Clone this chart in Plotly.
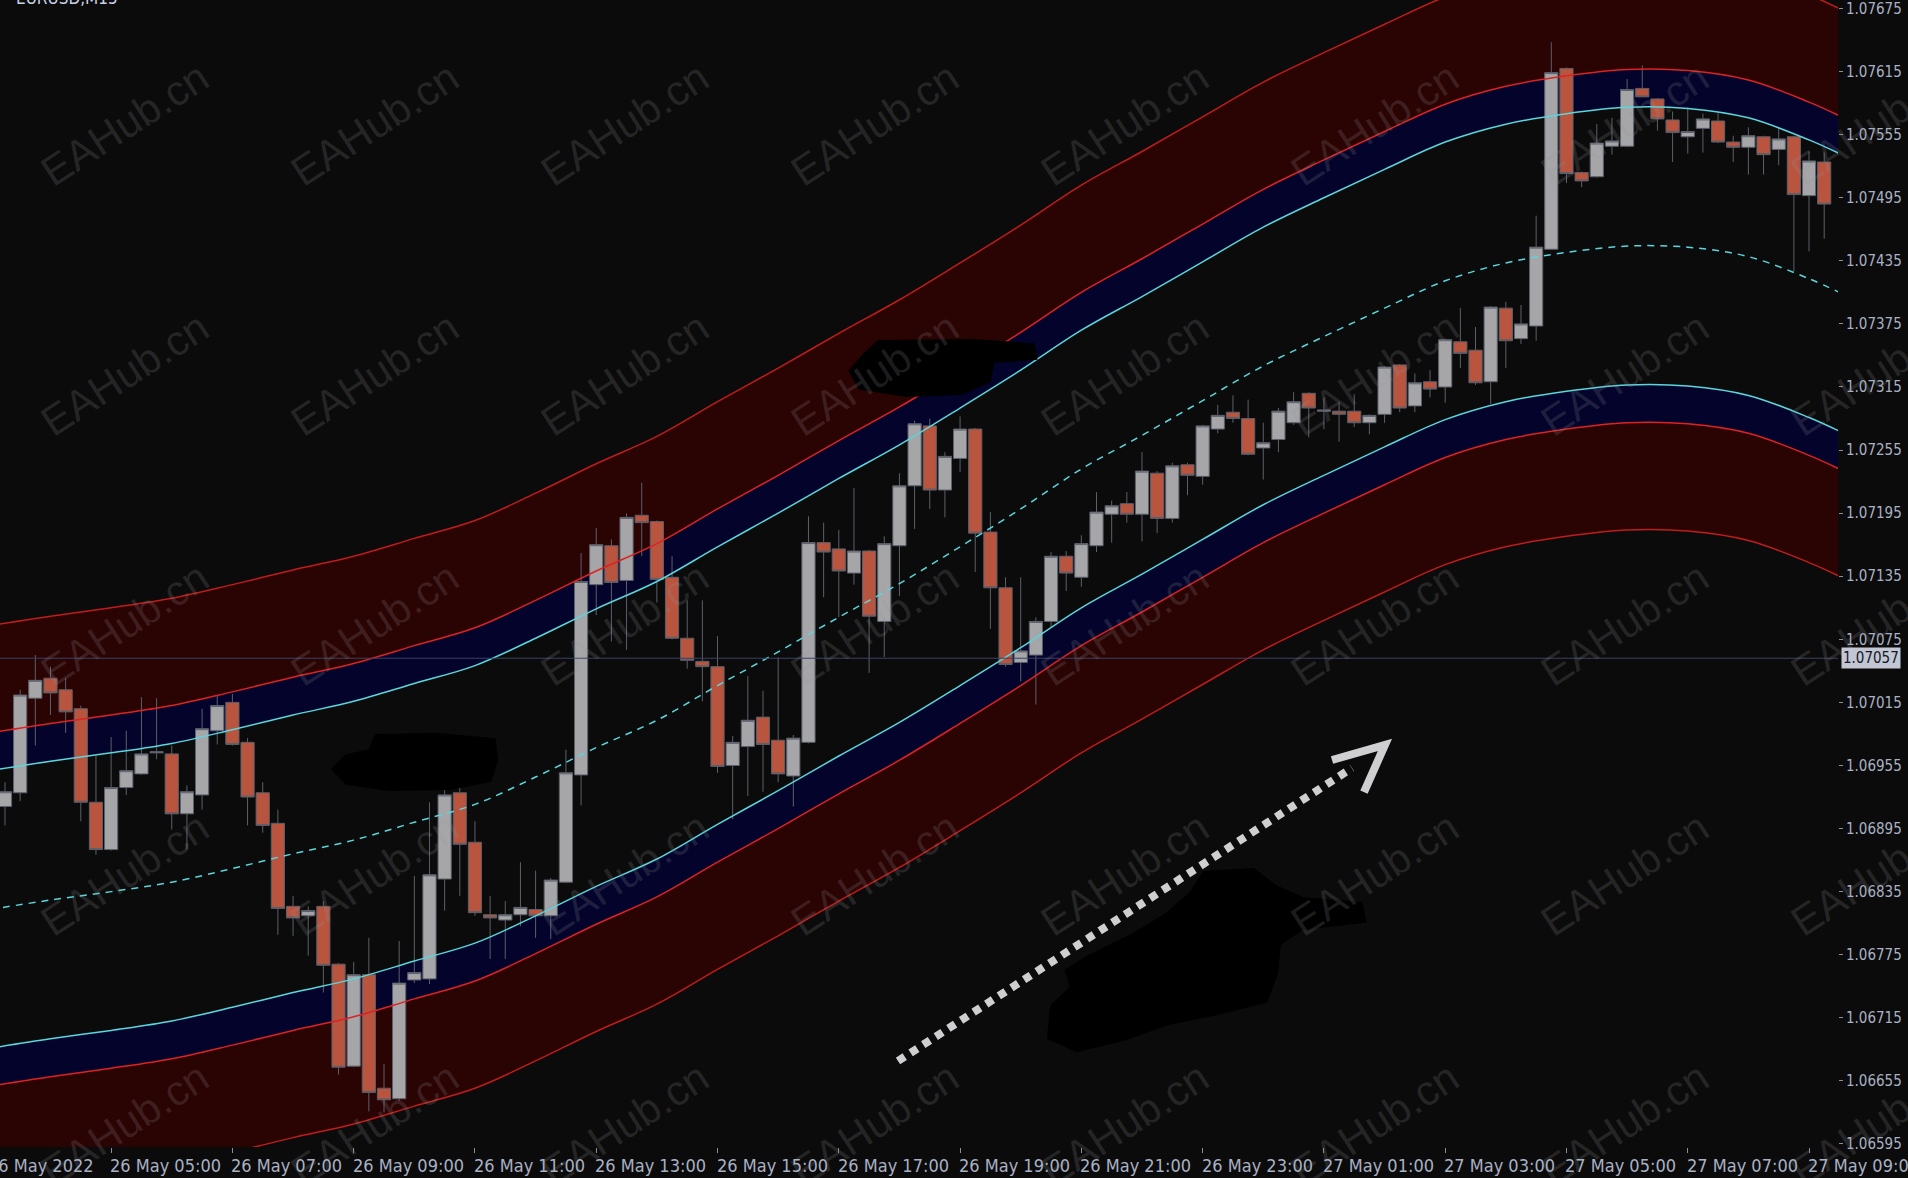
import pandas as pd
import plotly.graph_objects as go

# EURUSD M15 candles, 26 May 03:15 -> 27 May 09:15
opens = [1.06916, 1.06929, 1.07019, 1.07038, 1.07027, 1.07009, 1.06920, 1.06875, 1.06934, 1.06947,
         1.06967, 1.06966, 1.06909, 1.06927, 1.06988, 1.07015, 1.06977, 1.06929, 1.06900, 1.06821,
         1.06812, 1.06821, 1.06766, 1.06669, 1.06756, 1.06648, 1.06638, 1.06751, 1.06752, 1.06847,
         1.06929, 1.06882, 1.06813, 1.06808, 1.06813, 1.06818, 1.06812, 1.06844, 1.06946, 1.07127,
         1.07164, 1.07131, 1.07193, 1.07187, 1.07134, 1.07076, 1.07054, 1.07049, 1.06955, 1.06973,
         1.07001, 1.06979, 1.06945, 1.06977, 1.07167, 1.07161, 1.07138, 1.07159, 1.07092, 1.07164,
         1.07221, 1.07278, 1.07217, 1.07247, 1.07275, 1.07177, 1.07124, 1.07053, 1.07060, 1.07092,
         1.07154, 1.07134, 1.07164, 1.07194, 1.07204, 1.07194, 1.07233, 1.07190, 1.07241, 1.07230,
         1.07275, 1.07291, 1.07285, 1.07257, 1.07265, 1.07281, 1.07309, 1.07292, 1.07292, 1.07292,
         1.07281, 1.07289, 1.07336, 1.07297, 1.07320, 1.07315, 1.07358, 1.07350, 1.07320, 1.07390,
         1.07361, 1.07373, 1.07446, 1.07618, 1.07519, 1.07515, 1.07544, 1.07544, 1.07599, 1.07589,
         1.07569, 1.07553, 1.07561, 1.07568, 1.07548, 1.07543, 1.07553, 1.07541, 1.07553, 1.07497,
         1.07529]
highs = [1.06939, 1.07027, 1.07060, 1.07049, 1.07038, 1.07012, 1.06964, 1.06982, 1.06988, 1.07020,
         1.07019, 1.06974, 1.06936, 1.07009, 1.07021, 1.07023, 1.06981, 1.06939, 1.06913, 1.06831,
         1.06821, 1.06826, 1.06767, 1.06768, 1.06791, 1.06671, 1.06788, 1.06850, 1.06920, 1.06937,
         1.06942, 1.06902, 1.06831, 1.06826, 1.06863, 1.06855, 1.06848, 1.06970, 1.07157, 1.07181,
         1.07170, 1.07195, 1.07224, 1.07188, 1.07154, 1.07112, 1.07112, 1.07078, 1.06983, 1.07040,
         1.07026, 1.07058, 1.06984, 1.07192, 1.07186, 1.07179, 1.07219, 1.07160, 1.07173, 1.07233,
         1.07283, 1.07285, 1.07253, 1.07287, 1.07276, 1.07196, 1.07134, 1.07134, 1.07096, 1.07158,
         1.07159, 1.07174, 1.07215, 1.07207, 1.07215, 1.07253, 1.07235, 1.07243, 1.07243, 1.07279,
         1.07298, 1.07307, 1.07303, 1.07281, 1.07295, 1.07310, 1.07310, 1.07305, 1.07301, 1.07308,
         1.07289, 1.07335, 1.07337, 1.07328, 1.07331, 1.07361, 1.07390, 1.07372, 1.07392, 1.07396,
         1.07393, 1.07478, 1.07643, 1.07619, 1.07520, 1.07565, 1.07571, 1.07608, 1.07621, 1.07590,
         1.07577, 1.07581, 1.07575, 1.07576, 1.07554, 1.07562, 1.07554, 1.07562, 1.07554, 1.07539,
         1.07538]
lows = [1.06898, 1.06921, 1.06974, 1.07003, 1.06986, 1.06902, 1.06870, 1.06874, 1.06927, 1.06946,
        1.06961, 1.06894, 1.06875, 1.06913, 1.06975, 1.06974, 1.06898, 1.06891, 1.06794, 1.06793,
        1.06774, 1.06739, 1.06661, 1.06668, 1.06626, 1.06625, 1.06636, 1.06748, 1.06747, 1.06817,
        1.06831, 1.06812, 1.06771, 1.06771, 1.06802, 1.06791, 1.06790, 1.06843, 1.06917, 1.07098,
        1.07073, 1.07065, 1.07154, 1.07110, 1.07075, 1.07047, 1.07016, 1.06948, 1.06904, 1.06926,
        1.06930, 1.06939, 1.06916, 1.06976, 1.07115, 1.07096, 1.07127, 1.07043, 1.07058, 1.07116,
        1.07180, 1.07199, 1.07191, 1.07234, 1.07139, 1.07085, 1.07049, 1.07035, 1.07013, 1.07086,
        1.07121, 1.07125, 1.07158, 1.07167, 1.07186, 1.07168, 1.07176, 1.07186, 1.07212, 1.07222,
        1.07271, 1.07281, 1.07250, 1.07227, 1.07253, 1.07279, 1.07267, 1.07275, 1.07263, 1.07277,
        1.07270, 1.07281, 1.07291, 1.07291, 1.07305, 1.07300, 1.07333, 1.07317, 1.07299, 1.07333,
        1.07356, 1.07359, 1.07446, 1.07509, 1.07505, 1.07514, 1.07536, 1.07543, 1.07591, 1.07559,
        1.07529, 1.07537, 1.07538, 1.07547, 1.07529, 1.07517, 1.07517, 1.07526, 1.07425, 1.07444,
        1.07456]
closes = [1.06930, 1.07022, 1.07036, 1.07024, 1.07006, 1.06920, 1.06875, 1.06934, 1.06950, 1.06966,
          1.06968, 1.06909, 1.06930, 1.06990, 1.07012, 1.06975, 1.06925, 1.06898, 1.06819, 1.06810,
          1.06817, 1.06765, 1.06668, 1.06756, 1.06644, 1.06637, 1.06748, 1.06758, 1.06851, 1.06927,
          1.06880, 1.06815, 1.06810, 1.06813, 1.06820, 1.06812, 1.06846, 1.06948, 1.07130, 1.07165,
          1.07129, 1.07191, 1.07186, 1.07132, 1.07076, 1.07055, 1.07049, 1.06954, 1.06977, 1.06998,
          1.06975, 1.06947, 1.06981, 1.07167, 1.07158, 1.07140, 1.07159, 1.07097, 1.07166, 1.07221,
          1.07280, 1.07217, 1.07249, 1.07275, 1.07176, 1.07124, 1.07051, 1.07064, 1.07092, 1.07154,
          1.07138, 1.07166, 1.07196, 1.07202, 1.07194, 1.07235, 1.07190, 1.07240, 1.07231, 1.07278,
          1.07288, 1.07285, 1.07251, 1.07262, 1.07292, 1.07301, 1.07295, 1.07293, 1.07289, 1.07281,
          1.07288, 1.07334, 1.07295, 1.07319, 1.07313, 1.07360, 1.07347, 1.07319, 1.07391, 1.07359,
          1.07375, 1.07448, 1.07614, 1.07518, 1.07511, 1.07547, 1.07549, 1.07598, 1.07591, 1.07570,
          1.07557, 1.07558, 1.07570, 1.07548, 1.07543, 1.07554, 1.07536, 1.07551, 1.07498, 1.07530,
          1.07489]
bar_times = pd.date_range("2022-05-26 03:15", periods=len(opens), freq="15min")

# TMA bands (03:00 .. 09:00 next day, plus 09:30)
band_times = list(pd.date_range("2022-05-26 03:00", periods=31, freq="60min")) + [pd.Timestamp("2022-05-27 09:30")]
mid_line = [1.06818, 1.06827, 1.06835, 1.06844, 1.06857, 1.06871, 1.06884, 1.06901, 1.06918, 1.06944,
            1.06972, 1.06998, 1.07031, 1.07063, 1.07096, 1.07128, 1.07163, 1.07199, 1.07237, 1.07269,
            1.07302, 1.07335, 1.07363, 1.07390, 1.07416, 1.07433, 1.07443, 1.07449, 1.07448, 1.07439,
            1.07418, 1.07405]
upper_cyan = [1.06950, 1.06959, 1.06967, 1.06976, 1.06989, 1.07003, 1.07016, 1.07033, 1.07050, 1.07076,
              1.07104, 1.07130, 1.07163, 1.07195, 1.07228, 1.07260, 1.07295, 1.07331, 1.07369, 1.07401,
              1.07434, 1.07467, 1.07495, 1.07522, 1.07548, 1.07565, 1.07575, 1.07581, 1.07580, 1.07571,
              1.07550, 1.07537]
lower_cyan = [1.06686, 1.06695, 1.06703, 1.06712, 1.06725, 1.06739, 1.06752, 1.06769, 1.06786, 1.06812,
              1.06840, 1.06866, 1.06899, 1.06931, 1.06964, 1.06996, 1.07031, 1.07067, 1.07105, 1.07137,
              1.07170, 1.07203, 1.07231, 1.07258, 1.07284, 1.07301, 1.07311, 1.07317, 1.07316, 1.07307,
              1.07286, 1.07273]
upper_red = [1.06986, 1.06995, 1.07003, 1.07012, 1.07025, 1.07039, 1.07052, 1.07069, 1.07086, 1.07112,
             1.07140, 1.07166, 1.07199, 1.07231, 1.07264, 1.07296, 1.07331, 1.07367, 1.07405, 1.07437,
             1.07470, 1.07503, 1.07531, 1.07558, 1.07584, 1.07601, 1.07611, 1.07617, 1.07616, 1.07607,
             1.07586, 1.07573]
lower_red = [1.06650, 1.06659, 1.06667, 1.06676, 1.06689, 1.06703, 1.06716, 1.06733, 1.06750, 1.06776,
             1.06804, 1.06830, 1.06863, 1.06895, 1.06928, 1.06960, 1.06995, 1.07031, 1.07069, 1.07101,
             1.07134, 1.07167, 1.07195, 1.07222, 1.07248, 1.07265, 1.07275, 1.07281, 1.07280, 1.07271,
             1.07250, 1.07237]
upper_outer = [1.07088, 1.07097, 1.07105, 1.07114, 1.07127, 1.07141, 1.07154, 1.07171, 1.07188, 1.07214,
               1.07242, 1.07268, 1.07301, 1.07333, 1.07366, 1.07398, 1.07433, 1.07469, 1.07507, 1.07539,
               1.07572, 1.07605, 1.07633, 1.07660, 1.07686, 1.07703, 1.07713, 1.07719, 1.07718, 1.07709,
               1.07688, 1.07675]
lower_outer = [1.06548, 1.06557, 1.06565, 1.06574, 1.06587, 1.06601, 1.06614, 1.06631, 1.06648, 1.06674,
               1.06702, 1.06728, 1.06761, 1.06793, 1.06826, 1.06858, 1.06893, 1.06929, 1.06967, 1.06999,
               1.07032, 1.07065, 1.07093, 1.07120, 1.07146, 1.07163, 1.07173, 1.07179, 1.07178, 1.07169,
               1.07148, 1.07135]

bid_price = 1.07057
price_ticks = [1.06595, 1.06655, 1.06715, 1.06775, 1.06835, 1.06895, 1.06955, 1.07015, 1.07075, 1.07135,
               1.07195, 1.07255, 1.07315, 1.07375, 1.07435, 1.07495, 1.07555, 1.07615, 1.07675]
time_ticks = list(pd.date_range("2022-05-26 05:00", "2022-05-27 09:00", freq="2h"))
time_labels = ["26 May 05:00", "26 May 07:00", "26 May 09:00", "26 May 11:00", "26 May 13:00",
               "26 May 15:00", "26 May 17:00", "26 May 19:00", "26 May 21:00", "26 May 23:00",
               "27 May 01:00", "27 May 03:00", "27 May 05:00", "27 May 07:00", "27 May 09:00"]

BG = "#0b0b0b"
MAROON = "#2a0303"
NAVY = "#03032b"
CYAN = "#5ad6dc"
RED = "#de2222"
RED_OUT = "#c01c1c"
LABEL = "#a9b1c4"
AXIS = "#8a8f9c"
FONT = "DejaVu Sans Condensed, DejaVu Sans, sans-serif"

# plot area in pixels, used only for the drawn decorations
PW, PH = 1838, 1147
def px(x):
    return x / PW
def py(y):
    return 1 - y / PH

fig = go.Figure()

# band fills
def band(y, fill=None, color=None):
    fig.add_trace(go.Scatter(x=band_times, y=y, mode="lines", line=dict(width=0, shape="spline"),
                             fill=fill if fill else "none", fillcolor=color, hoverinfo="skip",
                             showlegend=False, zorder=0))

band(upper_outer)
band(upper_red, "tonexty", MAROON)
band(upper_cyan, "tonexty", NAVY)
band(lower_cyan)
band(lower_red, "tonexty", NAVY)
band(lower_outer, "tonexty", MAROON)

fig.add_trace(go.Candlestick(
    x=bar_times, open=opens, high=highs, low=lows, close=closes,
    increasing=dict(fillcolor="#a6a6a9", line=dict(color="#5b606b", width=1)),
    decreasing=dict(fillcolor="#b9543f", line=dict(color="#5b606b", width=1)),
    showlegend=False, zorder=1))

# band lines on top
for y, col, dash in [(upper_outer, RED_OUT, "solid"), (upper_red, RED, "solid"), (upper_cyan, CYAN, "solid"),
                     (mid_line, CYAN, "7px,6px"), (lower_cyan, CYAN, "solid"), (lower_red, RED, "solid"),
                     (lower_outer, RED_OUT, "solid")]:
    fig.add_trace(go.Scatter(x=band_times, y=y, mode="lines",
                             line=dict(color=col, width=1.5, dash=dash, shape="spline"),
                             hoverinfo="skip", showlegend=False, zorder=2))

shapes = []
# bid line
shapes.append(dict(type="line", xref="paper", x0=0, x1=1, yref="y", y0=bid_price, y1=bid_price,
                   line=dict(color="#3b4063", width=1), layer="above"))

# black marker scribbles
scribbles = [
    [(879, 343), (973, 342), (1032, 346), (1034, 357), (992, 360), (988, 380), (961, 392), (906, 394),
     (861, 387), (852, 371), (866, 355)],
    [(377, 737), (438, 736), (493, 741), (495, 760), (489, 779), (450, 787), (389, 788), (347, 782),
     (335, 769), (347, 757), (371, 752)],
    [(1205, 874), (1253, 871), (1275, 888), (1302, 900), (1360, 905), (1363, 920), (1302, 927), (1278, 943),
     (1275, 973), (1265, 1000), (1217, 1012), (1168, 1022), (1126, 1037), (1077, 1049), (1050, 1037),
     (1053, 1007), (1073, 988), (1068, 971), (1089, 958), (1132, 937), (1168, 915), (1192, 894)],
]
for pts in scribbles:
    path = "M " + " L ".join(f"{px(a):.4f},{py(b):.4f}" for a, b in pts) + " Z"
    shapes.append(dict(type="path", xref="paper", yref="paper", path=path,
                       fillcolor="#000000", line=dict(color="#000000", width=6), layer="above"))

# dotted arrow
shapes.append(dict(type="line", xref="paper", yref="paper", x0=px(898), y0=py(1061), x1=px(1352), y1=py(768),
                   line=dict(color="#cfcfd2", width=8, dash="8px,7px"), layer="above"))
shapes.append(dict(type="path", xref="paper", yref="paper",
                   path=f"M {px(1332):.4f},{py(760):.4f} L {px(1385):.4f},{py(745):.4f} L {px(1364):.4f},{py(792):.4f}",
                   line=dict(color="#cfcfd2", width=8), layer="above"))

annotations = []
# watermarks
for r in range(5):
    for c in range(8):
        annotations.append(dict(xref="paper", yref="paper", x=px(124 + 250 * c), y=py(124 + 250 * r),
                                xanchor="center", yanchor="middle",
                                text="EAHub.cn", showarrow=False, textangle=-33,
                                font=dict(family="Liberation Sans, Arial, sans-serif", size=42,
                                          color="rgba(150,150,150,0.2)")))

# time labels, left aligned at their ticks like MT4
annotations.append(dict(xref="x", yref="paper", x="2022-05-26 03:10:03", y=0, xanchor="left", yanchor="top",
                        xshift=-14, yshift=-6, text="26 May 2022", showarrow=False,
                        font=dict(family=FONT, size=18, color=LABEL)))
for t, lab in zip(time_ticks, time_labels):
    annotations.append(dict(xref="x", yref="paper", x=t, y=0, xanchor="left", yanchor="top",
                            xshift=-3, yshift=-6, text=lab, showarrow=False,
                            font=dict(family=FONT, size=18, color=LABEL)))

# bid price box
annotations.append(dict(xref="paper", yref="y", x=1, y=bid_price, xanchor="left", xshift=3,
                        text="1.07057", showarrow=False, bgcolor="#c3c7d3", borderpad=1,
                        font=dict(family=FONT, size=15, color="#14182a")))

# symbol caption, cut off by the top edge
annotations.append(dict(xref="paper", yref="paper", x=0, y=1, xanchor="left", yanchor="bottom",
                        xshift=14, yshift=-10, text="EURUSD,M15", showarrow=False,
                        font=dict(family=FONT, size=17, color="#c9d2e6")))

fig.update_layout(
    width=1908, height=1178,
    margin=dict(l=0, r=70, t=0, b=31),
    paper_bgcolor=BG, plot_bgcolor=BG,
    boxgap=0.13, boxgroupgap=0,
    showlegend=False,
    shapes=shapes,
    annotations=annotations,
    xaxis=dict(type="date", range=["2022-05-26 03:10:03", "2022-05-27 09:28:40"],
               rangeslider=dict(visible=False), showgrid=False, zeroline=False,
               tickvals=time_ticks, showticklabels=False, ticks="outside", ticklen=5,
               tickcolor=AXIS, showline=True, linecolor=AXIS, linewidth=1),
    yaxis=dict(range=[1.065921, 1.076831], side="right", showgrid=False, zeroline=False,
               tickvals=price_ticks, ticktext=[f"{v:.5f}" for v in price_ticks],
               ticklabeloverflow="allow",
               ticks="outside", ticklen=4, tickcolor=AXIS, showline=True, linecolor=AXIS, linewidth=1,
               tickfont=dict(family=FONT, size=15, color=LABEL)),
)

# page has a default 8px body margin; drop it so the figure fills the window
fig.write_html("out.html", config={"displayModeBar": False},
               post_script="document.body.style.margin='0';document.body.style.background='#0b0b0b';")
